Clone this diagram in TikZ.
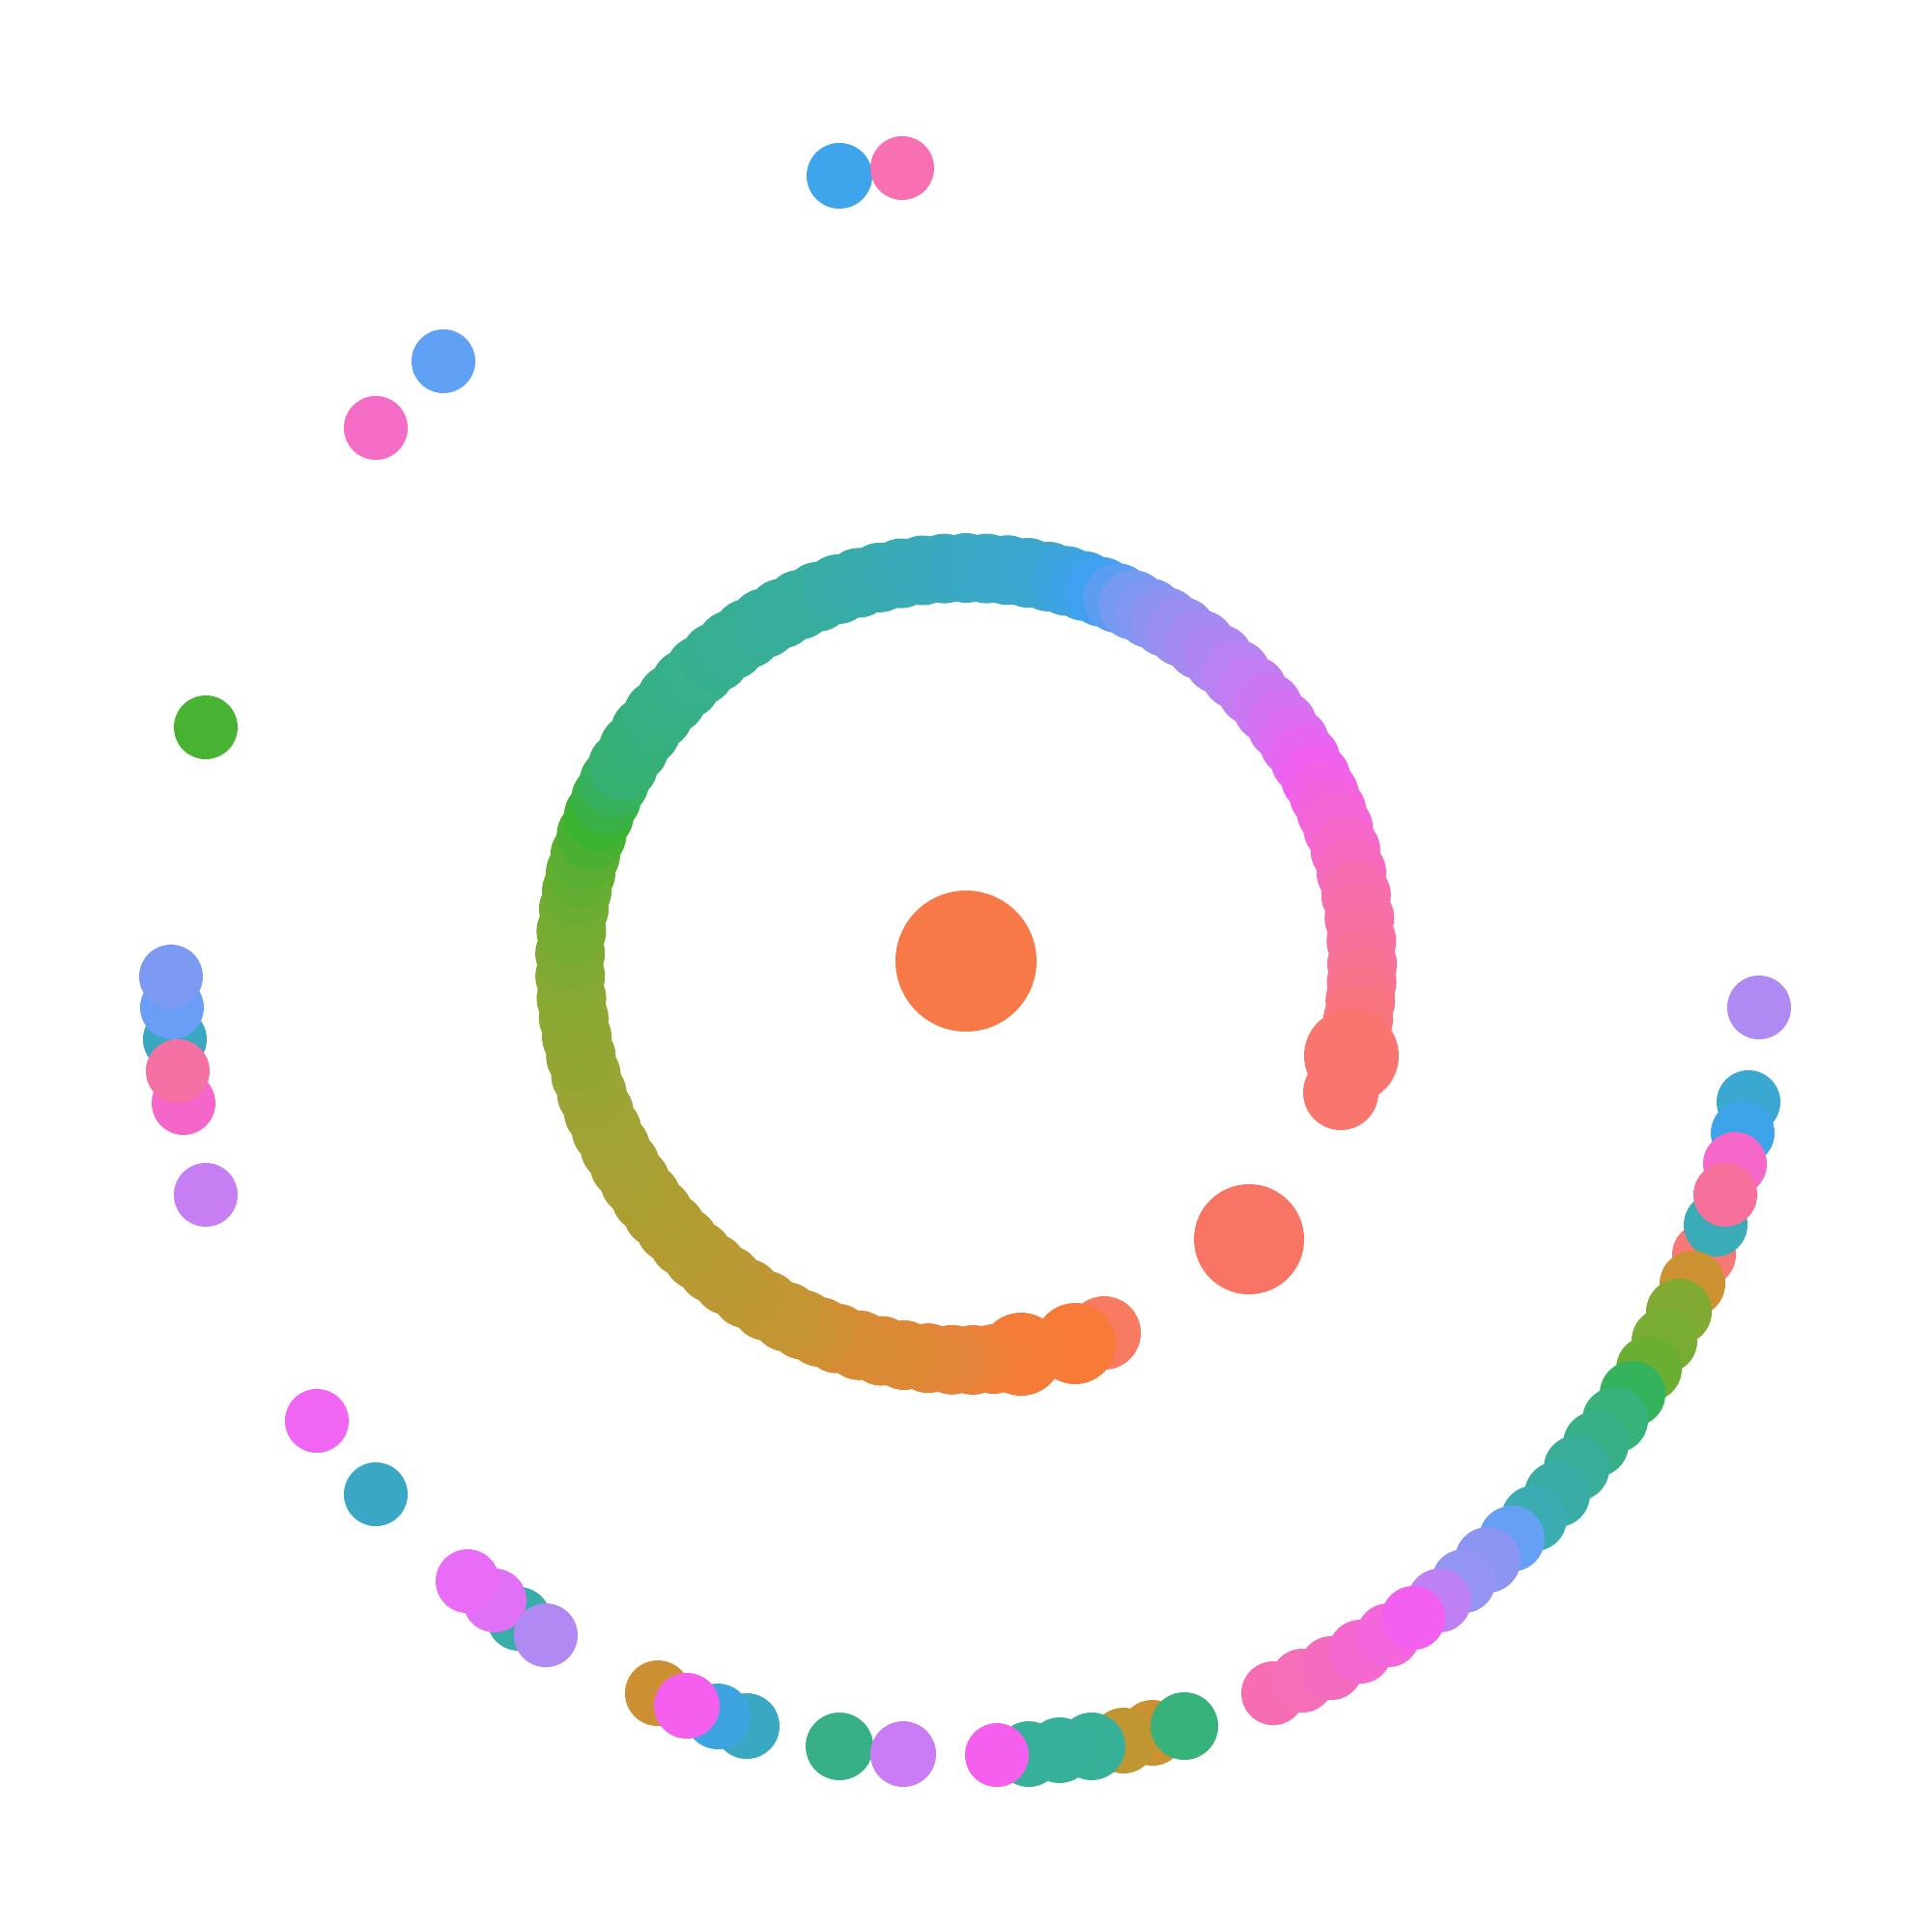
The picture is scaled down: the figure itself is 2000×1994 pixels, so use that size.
\documentclass[tikz,border=0pt]{standalone}
\usepackage{xcolor}
\begin{document}
\begin{tikzpicture}[x=0.01cm,y=-0.01cm]
\useasboundingbox (0,0) rectangle (2000,1994);
\fill[white] (0,0) rectangle (2000,1994);
\newcommand\pdot[4]{\definecolor{tmpc}{HTML}{#4}\fill[tmpc] (#1,#2) circle[radius=#3*0.01cm];}
% central and large dots
\pdot{1000}{995}{73}{F87948}
\pdot{1293}{1283}{57}{F87566}
% ring start
\pdot{1143}{1380}{38}{F87A60}
\pdot{1113}{1391}{42}{F77A38}
\pdot{1057}{1402}{43}{F47C36}
% ring
\foreach \as/\ae/\ca/\cb/\n in {86/92/F37D37/E6833A/2, 92/99/E6833A/DD8835/2, 99/109/DD8835/D58C33/3,
 109/117/D58C33/C59533/3, 117/127/C59533/BB9833/3, 127/141/BB9833/B09D32/5, 141/158/B09D32/A0A335/6,
 158/175/A0A335/8BA833/6, 175/188/8BA833/72AC32/4, 188/196/72AC32/5AAF32/3, 196/202/5AAF32/3AB232/2,
 202/210/3AB232/36B070/3, 210/225/36B070/36B08A/5, 225/248/36B08A/37AEA0/8, 248/270/37AEA0/3AA8C4/7,
 270/282/3AA8C4/3BA6D2/4, 282/290/3BA6D2/40A0F2/3, 290/295/40A0F2/759AF0/2, 295/303/759AF0/9A8EF0/3,
 303/313/9A8EF0/B882F2/3, 313/323/B882F2/D572F2/3, 323/332/D572F2/F060F0/3, 332/340/F060F0/F465D5/3,
 340/350/F465D5/F66DB0/3, 350/360/F66DB0/F7729A/3, 360/368/F7729A/F8747E/3}{
  \definecolor{ca}{HTML}{\ca}\definecolor{cb}{HTML}{\cb}
  \pgfmathtruncatemacro\nm{\n-1}
  \foreach \k in {0,...,\nm}{
    \pgfmathsetmacro\a{\as+(\ae-\as)*\k/\n}
    \pgfmathtruncatemacro\p{100*\k/\n}
    \fill[cb!\p!ca] ({1000+410*cos(\a)},{998+410*sin(\a)}) circle[radius=0.36cm];
  }
}
\definecolor{ce}{HTML}{F8747E}
\fill[ce] ({1000+410*cos(368)},{998+410*sin(368)}) circle[radius=0.36cm];
\pdot{1388}{1131}{39}{F8766D}
\pdot{1399}{1093}{49}{F87570}
% outer dots
\pdot{869}{182}{34}{3EA4EC}
\pdot{934}{174}{33}{F870B2}
\pdot{459}{374}{33}{60A0F5}
\pdot{389}{443}{33}{F46CC5}
\pdot{213}{753}{33}{48B232}
\pdot{181}{1076}{33}{3AA8C0}
\pdot{178}{1043}{33}{6A9DF5}
\pdot{177}{1011}{33}{7D9AF2}
\pdot{190}{1142}{33}{F566CB}
\pdot{184}{1109}{33}{F571A3}
\pdot{213}{1237}{33}{C77EF3}
\pdot{328}{1471}{33}{F065F2}
\pdot{389}{1547}{33}{3AA8C4}
\pdot{537}{1676}{33}{38ADAA}
\pdot{512}{1657}{33}{E070F5}
\pdot{484}{1637}{33}{E86CF5}
\pdot{565}{1693}{33}{B089F3}
\pdot{773}{1787}{34}{3AA8C2}
\pdot{743}{1777}{34}{3EA4E0}
\pdot{681}{1753}{34}{CC9032}
\pdot{711}{1766}{34}{F45FEE}
\pdot{869}{1808}{35}{36B084}
\pdot{935}{1816}{34}{C97CF3}
\pdot{1193}{1794}{34}{CC9232}
\pdot{1163}{1802}{34}{C09632}
\pdot{1130}{1808}{35}{36B096}
\pdot{1097}{1812}{34}{36B098}
\pdot{1065}{1816}{34}{36B098}
\pdot{1032}{1817}{33}{F45FEE}
\pdot{1226}{1787}{35}{36B27A}
% right outer chain
\pdot{1821}{1043}{33}{AE8AF2}
\pdot{1810}{1141}{33}{3AA8D0}
\pdot{1804}{1173}{33}{3EA4EA}
\pdot{1796}{1205}{33}{F567C8}
\pdot{1764}{1299}{33}{F87876}
\pdot{1776}{1268}{33}{3AACB8}
\pdot{1786}{1237}{33}{F5709A}
\pdot{1752}{1329}{34}{CC9232}
\pdot{1738}{1358}{34}{80AA32}
\pdot{1723}{1388}{34}{78AC32}
\pdot{1707}{1417}{34}{6AAF32}
\pdot{1690}{1443}{34}{35B35C}
\pdot{1672}{1470}{34}{36B27A}
\pdot{1652}{1495}{34}{37B088}
\pdot{1632}{1520}{34}{38AE98}
\pdot{1612}{1547}{34}{38ACA5}
\pdot{1588}{1572}{34}{3AACB2}
\pdot{1565}{1593}{34}{66A0F5}
\pdot{1540}{1615}{34}{8C96F2}
\pdot{1515}{1637}{33}{9494F2}
\pdot{1490}{1657}{33}{BE80F2}
\pdot{1318}{1753}{33}{F76DB4}
\pdot{1348}{1740}{33}{F56EB8}
\pdot{1378}{1727}{33}{F46CBE}
\pdot{1408}{1710}{33}{F468D0}
\pdot{1437}{1693}{33}{F466DC}
\pdot{1463}{1675}{33}{F360F0}
\end{tikzpicture}
\end{document}
